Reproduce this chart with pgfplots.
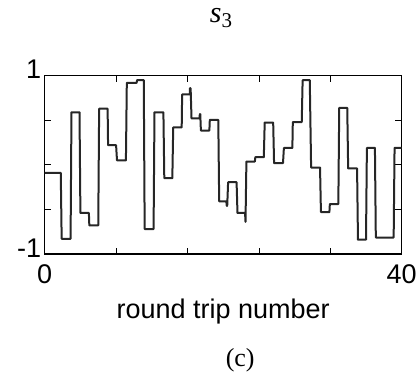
\documentclass[border=0pt]{standalone}
\usepackage{fontspec}
\setmainfont{Liberation Sans}
\newfontfamily\timesfont{Liberation Serif}
\usepackage{pgfplots}
\pgfplotsset{compat=1.18}

% s_3 trace: one level per round trip, with short spikes at a few transitions
\begin{document}
\begin{tikzpicture}[x=1pt,y=1pt]
% page frame, measured from the lower left corner of the plot box
\path[use as bounding box] (-44.7,-119) rectangle (375.3,254);
\begin{axis}[
  scale only axis, width=357pt, height=178.3pt,
  xmin=0, xmax=40, ymin=-1, ymax=1,
  xtick={0,8,16,24,32,40}, xticklabels={0,,,,,40},
  ytick={-1,-0.5,0,0.5,1}, yticklabels={-1,,,,1},
  tick align=inside, major tick length=6.5pt,
  tick style={line width=0.8pt, black},
  axis line style={line width=1.4pt},
  ticklabel style={font=\fontsize{27}{31}\selectfont},
  yticklabel style={yshift=6pt},
  xticklabel style={yshift=-7pt},
  xlabel={round trip number},
  xlabel style={font=\fontsize{27}{31}\selectfont, at={(axis description cs:0.5,0)}, anchor=base, yshift=-64pt},
]
\addplot[line width=2pt, black!85, line join=round] coordinates {
(0,-0.09) (1.8,-0.09)
(1.9,-0.83) (2.9,-0.83)
(3.0,0.59) (3.9,0.59)
(4.0,-0.54) (4.95,-0.54)
(5.0,-0.68) (6.0,-0.68)
(6.1,0.63) (7.05,0.63)
(7.1,0.22) (8.0,0.22)
(8.1,0.05) (9.1,0.05)
(9.2,0.92) (10.3,0.92) (10.35,0.95) (11.1,0.95)
(11.2,-0.72) (12.2,-0.72)
(12.3,0.59) (13.3,0.59)
(13.4,-0.15) (14.3,-0.15)
(14.4,0.42) (15.35,0.42)
(15.4,0.79) (16.25,0.79) (16.28,0.86) (16.35,0.86)
(16.45,0.52) (17.35,0.52) (17.38,0.57) (17.43,0.57)
(17.5,0.385) (18.45,0.385)
(18.5,0.505) (19.45,0.505)
(19.55,-0.41) (20.35,-0.41) (20.4,-0.46) (20.45,-0.46)
(20.55,-0.195) (21.5,-0.195)
(21.6,-0.54) (22.45,-0.54) (22.5,-0.64)
(22.6,0.037) (23.55,0.037)
(23.6,0.086) (24.55,0.086)
(24.65,0.475) (25.6,0.475)
(25.7,0.02) (26.7,0.02)
(26.8,0.19) (27.75,0.19)
(27.8,0.48) (28.8,0.48)
(28.9,0.95) (29.7,0.95)
(29.85,-0.03) (30.85,-0.03)
(30.95,-0.53) (31.9,-0.53)
(31.95,-0.44) (32.9,-0.44)
(33.0,0.64) (33.9,0.64)
(34.0,-0.04) (35.0,-0.04)
(35.1,-0.84) (36.0,-0.84)
(36.1,0.19) (37.0,0.19)
(37.1,-0.815) (39.1,-0.815)
(39.2,0.19) (40,0.19)
};
\end{axis}
\node[anchor=base, font=\timesfont\fontsize{30}{34}\selectfont] at (176.5,232) {\textit{s}\textsubscript{3}};
\node[anchor=base, font=\timesfont\fontsize{26}{30}\selectfont] at (195.5,-112) {(c)};
\end{tikzpicture}
\end{document}
